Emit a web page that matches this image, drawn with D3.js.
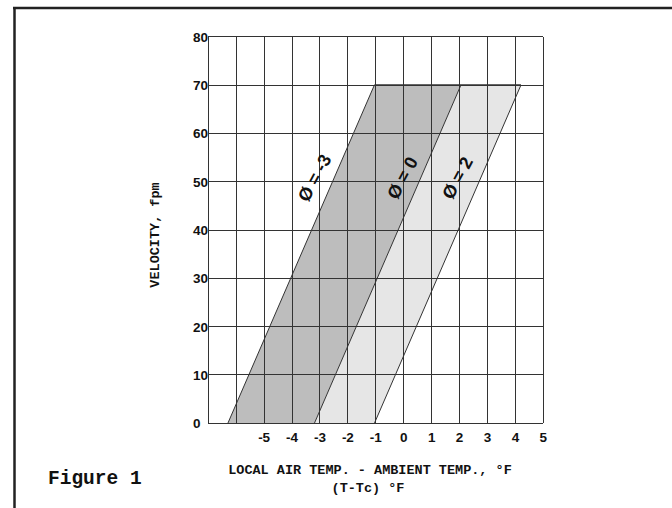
<!DOCTYPE html>
<html>
<head>
<meta charset="utf-8">
<script src="https://cdn.jsdelivr.net/npm/d3@7"></script>
<style>
  html, body { margin: 0; padding: 0; background: #fff; }
  svg { display: block; }
</style>
</head>
<body>
<svg id="chart" width="672" height="508"></svg>
<script>
// ---- data ----
const xTicks = [-5, -4, -3, -2, -1, 0, 1, 2, 3, 4, 5];
const yTicks = [0, 10, 20, 30, 40, 50, 60, 70, 80];
const xGrid = [-7, -6, -5, -4, -3, -2, -1, 0, 1, 2, 3, 4, 5];
const phiLabels = ["Ø = -3", "Ø = 0", "Ø = 2"];
const velocityRange = [0, 70];              // fpm, bottom and top of the bands
const tempAtBottom = [-6.3, -3.2, -1.05];   // temp diff at 0 fpm for each Ø line
const tempAtTop = [-1.05, 2.05, 4.2];       // temp diff at 70 fpm for each Ø line
const labelVelocity = [50.8, 50.8, 50.8];
const labelTemp = [-3.2, -0.05, 1.92];
const bandFills = ["#bdbdbd", "#e6e6e6"];

const svg = d3.select("#chart");
const x = d3.scaleLinear().domain([-7, 5]).range([208.3, 543.3]);
const y = d3.scaleLinear().domain([0, 80]).range([423.3, 36.7]);

// outer frame (top and left)
svg.append("line").attr("x1", 13).attr("x2", 672).attr("y1", 8).attr("y2", 8)
  .attr("stroke", "#222").attr("stroke-width", 2.5);
svg.append("line").attr("x1", 14.5).attr("x2", 14.5).attr("y1", 7).attr("y2", 508)
  .attr("stroke", "#222").attr("stroke-width", 2.5);

// bands
for (let i = 0; i < 2; i++) {
  const pts = [
    [x(tempAtBottom[i]), y(velocityRange[0])],
    [x(tempAtTop[i]), y(velocityRange[1])],
    [x(tempAtTop[i + 1]), y(velocityRange[1])],
    [x(tempAtBottom[i + 1]), y(velocityRange[0])]
  ];
  svg.append("path").attr("d", d3.line()(pts) + "Z").attr("fill", bandFills[i]);
}

// grid
const g = svg.append("g").attr("stroke", "#333").attr("stroke-width", 1).attr("shape-rendering", "crispEdges");
g.selectAll(".vg").data(xGrid).join("line")
  .attr("x1", d => x(d)).attr("x2", d => x(d))
  .attr("y1", y(0)).attr("y2", y(80));
g.selectAll(".hg").data(yTicks).join("line")
  .attr("x1", x(-7)).attr("x2", x(5))
  .attr("y1", d => y(d)).attr("y2", d => y(d));

// phi lines
for (let i = 0; i < 3; i++) {
  svg.append("line")
    .attr("x1", x(tempAtBottom[i])).attr("y1", y(velocityRange[0]))
    .attr("x2", x(tempAtTop[i])).attr("y2", y(velocityRange[1]))
    .attr("stroke", "#333").attr("stroke-width", 1);
}
svg.append("line")
  .attr("x1", x(tempAtTop[0])).attr("x2", x(tempAtTop[2]))
  .attr("y1", y(70)).attr("y2", y(70))
  .attr("stroke", "#333").attr("stroke-width", 1.5);

// phi labels
const angle = -Math.atan2(y(0) - y(70), x(tempAtTop[0]) - x(tempAtBottom[0])) * 180 / Math.PI;
phiLabels.forEach((t, i) => {
  const px = x(labelTemp[i]), py = y(labelVelocity[i]);
  svg.append("text")
    .attr("transform", `translate(${px},${py}) rotate(${angle + 5})`)
    .attr("text-anchor", "middle").attr("dy", "0.35em")
    .attr("font-family", "Liberation Sans, Arial, sans-serif")
    .attr("font-weight", "bold").attr("font-size", 18)
    .attr("fill", "#111")
    .text(t);
});

// y tick labels
svg.selectAll(".yl").data(yTicks).join("text")
  .attr("x", 193).attr("y", d => y(d)).attr("dy", "0.36em")
  .attr("font-family", "Liberation Sans, Arial, sans-serif")
  .attr("font-weight", "bold").attr("font-size", 13.5).attr("fill", "#111")
  .text(d => d);

// x tick labels
svg.selectAll(".xl").data(xTicks).join("text")
  .attr("x", d => x(d)).attr("y", 442)
  .attr("text-anchor", "middle")
  .attr("font-family", "Liberation Sans, Arial, sans-serif")
  .attr("font-weight", "bold").attr("font-size", 13.5).attr("fill", "#111")
  .text(d => d);

// axis titles
const mono = "Liberation Mono, Courier New, monospace";
svg.append("text").attr("x", 370).attr("y", 474).attr("text-anchor", "middle")
  .attr("font-family", mono).attr("font-weight", "bold").attr("font-size", 13.5).attr("fill", "#111")
  .text("LOCAL AIR TEMP. - AMBIENT TEMP., °F");
svg.append("text").attr("x", 368).attr("y", 492).attr("text-anchor", "middle")
  .attr("font-family", mono).attr("font-weight", "bold").attr("font-size", 13.5).attr("fill", "#111")
  .text("(T-Tc) °F");
svg.append("text").attr("transform", "translate(159,235) rotate(-90)").attr("text-anchor", "middle")
  .attr("font-family", mono).attr("font-weight", "bold").attr("font-size", 13.5).attr("fill", "#111")
  .text("VELOCITY, fpm");

svg.append("text").attr("x", 48).attr("y", 484)
  .attr("font-family", mono).attr("font-weight", "bold").attr("font-size", 19.5).attr("fill", "#111")
  .text("Figure 1");
</script>
</body>
</html>
